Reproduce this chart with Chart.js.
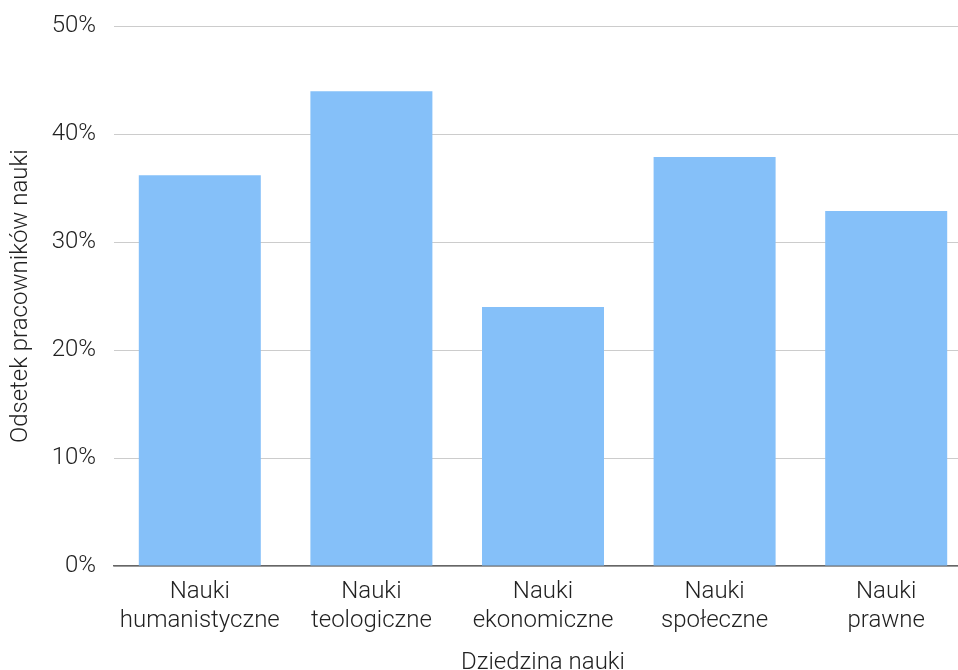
<!DOCTYPE html>
<html>
<head>
<meta charset="utf-8">
<script src="https://cdn.jsdelivr.net/npm/chart.js@4/dist/chart.umd.min.js"></script>
<style>
  html, body { margin: 0; padding: 0; background: #fff; overflow: hidden; }
  /* plot runs a little past the right edge of the window */
  #wrap { width: 972px; height: 676px; margin-top: -6px; position: relative; }
</style>
</head>
<body>
<div id="wrap"><canvas id="chart"></canvas></div>
<script>
const categories = [
  ["Nauki", "humanistyczne"],
  ["Nauki", "teologiczne"],
  ["Nauki", "ekonomiczne"],
  ["Nauki", "społeczne"],
  ["Nauki", "prawne"]
];
const shares = [36.2, 44.0, 24.0, 37.9, 32.9];
const yTicks = [0, 10, 20, 30, 40, 50];

const FONT = "Roboto";

new Chart(document.getElementById("chart"), {
  type: "bar",
  data: {
    labels: categories,
    datasets: [
      {
        label: "Odsetek",
        data: shares,
        backgroundColor: "#85c0f9",
        barPercentage: 0.711,
        categoryPercentage: 1.0,
      },
    ],
  },
  options: {
    responsive: true,
    maintainAspectRatio: false,
    animation: false,
    layout: { padding: { top: 0, right: 0, left: 0, bottom: 0 } },
    plugins: {
      legend: { display: false },
      tooltip: { enabled: false },
    },
    scales: {
      y: {
        min: 0,
        max: 50,
        afterBuildTicks: function (scale) {
          scale.ticks = yTicks.map(function (v) { return { value: v }; });
        },
        afterFit: function (scale) { scale.width = 114; },
        border: { display: false },
        grid: { color: "#cccccc", lineWidth: 1, drawTicks: false },
        ticks: {
          padding: 18,
          color: "#222",
          font: { family: FONT, size: 24, weight: 300 },
          callback: function (value) { return value + "%"; },
        },
        title: {
          display: true,
          text: "Odsetek pracowników nauki",
          color: "#222",
          font: { family: FONT, size: 24, weight: 300, lineHeight: 1.0 },
          padding: { top: 9, bottom: 0 },
        },
      },
      x: {
        afterFit: function (scale) { scale.height = 104; },
        border: { display: true, color: "#666", width: 1.5 },
        grid: { display: false, drawTicks: false },
        ticks: {
          padding: 12,
          color: "#222",
          maxRotation: 0,
          font: { family: FONT, size: 24, weight: 300, lineHeight: 1.2 },
        },
        title: {
          display: true,
          text: "Dziedzina nauki",
          color: "#222",
          font: { family: FONT, size: 24, weight: 300, lineHeight: 1.0 },
          padding: { top: 0, bottom: -5 },
        },
      },
    },
  },
});
</script>
</body>
</html>
